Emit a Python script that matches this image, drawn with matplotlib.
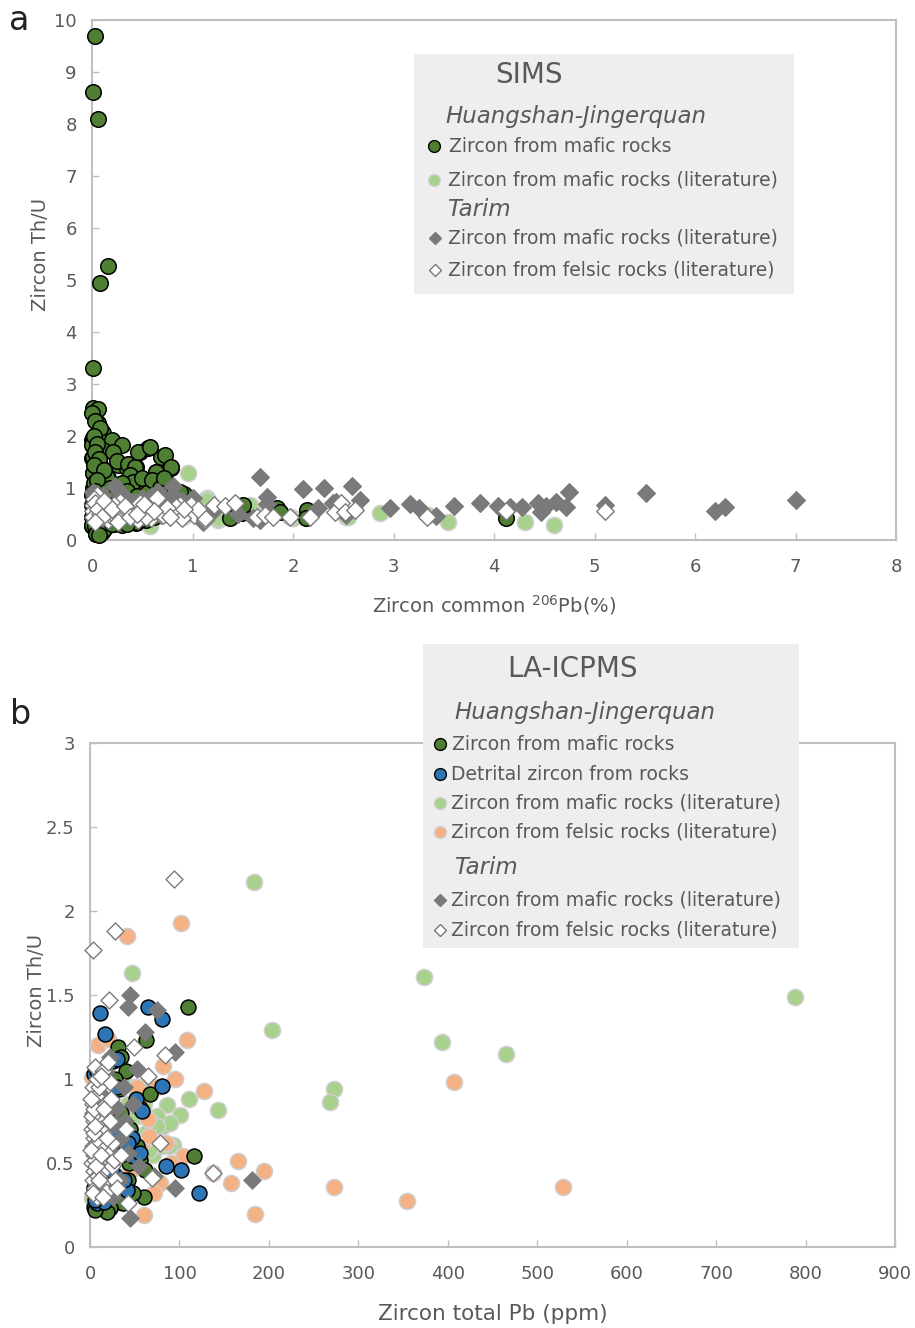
"""Zircon Th/U against common 206Pb (SIMS) and total Pb (LA-ICPMS), two stacked panels."""

import matplotlib
matplotlib.use("Agg")
import matplotlib.pyplot as plt
from matplotlib.lines import Line2D
from matplotlib.patches import Rectangle

plt.rcParams["font.family"] = ["DejaVu Sans"]

# ---- panel a (SIMS): x = common 206Pb (%), y = Th/U ----
a_hj_x = [0.03, 0.01, 0.06, 0.16, 0.08, 0.01,
          0.01, 0.06, 0.00, 0.06, 0.10, 0.00, 0.11, 0.20, 0.30, 0.11, 0.21, 0.00,
          0.08, 0.16, 0.26, 0.35, 0.44, 0.48, 0.56, 0.38, 0.44, 0.69, 0.73, 0.64,
          0.79, 0.56, 0.53, 0.61, 0.01, 0.01, 0.08, 0.01, 0.08, 0.15, 0.00, 0.44,
          0.54, 0.78, 0.92, 1.37, 1.46, 1.49, 1.50, 1.84, 1.87, 2.14, 2.13, 4.12,
          0.03, 0.08, 0.01, 0.00, 0.01, 0.01, 0.15, 0.25, 0.36, 0.43, 0.38, 0.46,
          0.58, 0.49, 0.59, 0.64, 0.79, 0.56, 0.00, 0.03, 0.08, 0.15, 0.00, 0.00,
          0.00, 0.44, 0.41, 0.88, 0.02, 0.05, 0.12, 0.22, 0.30, 0.10, 0.04,
          0.02, 0.05, 0.03, 0.07, 0.02, 0.12, 0.05, 0.03, 0.10, 0.18, 0.25, 0.30,
          0.35, 0.45, 0.50, 0.60, 0.68, 0.72, 0.02, 0.06, 0.12, 0.20, 0.28, 0.35,
          0.50, 0.62, 0.70, 0.85, 0.04, 0.07]
a_hj_y = [9.69, 8.62, 8.10, 5.27, 4.94, 3.31,
          2.53, 2.52, 2.44, 2.25, 2.08, 1.92, 2.05, 1.92, 1.83, 1.73, 1.70, 1.58,
          1.44, 1.19, 1.44, 1.38, 1.41, 1.70, 1.77, 1.22, 1.10, 1.60, 1.64, 1.31,
          1.38, 1.03, 0.90, 0.96, 1.29, 1.00, 1.03, 0.38, 0.19, 0.26, 0.26, 0.33,
          0.38, 0.52, 0.88, 0.42, 0.61, 0.52, 0.67, 0.61, 0.54, 0.58, 0.42, 0.42,
          2.28, 2.15, 1.96, 1.83, 1.60, 1.28, 1.22, 1.51, 1.47, 1.41, 1.25, 1.70,
          1.79, 1.09, 1.06, 1.31, 1.41, 0.93, 0.29, 0.26, 0.22, 0.32, 0.45, 0.67,
          0.87, 0.35, 1.12, 0.93, 1.10, 0.80, 0.62, 0.30, 0.28, 0.15, 0.12,
          2.00, 1.85, 1.70, 1.55, 1.45, 1.35, 1.15, 0.95, 0.85, 1.00, 0.90, 1.10,
          0.95, 0.85, 1.20, 1.15, 1.00, 1.20, 0.60, 0.35, 0.22, 0.30, 0.45, 0.30,
          0.40, 0.45, 0.70, 0.75, 0.12, 0.10]

a_hj_lit_x = [0.96, 1.14, 0.78, 0.58, 0.91, 1.25, 1.59, 2.00, 2.53, 2.87, 3.34,
              3.54, 4.31, 4.60, 1.14, 1.26, 1.57, 1.97, 2.55, 0.94, 0.76, 0.50,
              0.70, 1.05]
a_hj_lit_y = [1.29, 0.81, 1.03, 0.26, 0.45, 0.38, 0.64, 0.42, 0.45, 0.52, 0.48,
              0.35, 0.35, 0.28, 0.77, 0.42, 0.67, 0.45, 0.45, 0.48, 1.06, 0.60,
              0.50, 0.55]

a_tm_x = [1.67, 2.10, 2.31, 2.59, 2.67, 2.25, 2.40, 1.74, 1.74, 2.97, 3.16, 3.25,
          3.42, 3.60, 3.86, 4.04, 4.16, 4.28, 4.44, 4.52, 4.62, 4.72, 4.75, 4.47,
          5.10, 5.51, 6.20, 6.30, 7.00,
          0.01, 0.11, 0.23, 0.31, 0.43, 0.54, 0.71, 0.81, 0.81, 0.08, 0.20, 0.64,
          0.98, 1.10, 1.60, 1.67, 2.43, 2.53, 0.38, 0.15, 0.60, 0.90, 1.20, 1.45,
          0.04, 0.10, 0.27, 0.50, 0.66, 0.75, 0.86, 1.00]
a_tm_y = [1.21, 0.98, 1.00, 1.03, 0.77, 0.62, 0.72, 0.83, 0.69, 0.62, 0.69, 0.61,
          0.46, 0.65, 0.72, 0.65, 0.64, 0.63, 0.72, 0.65, 0.74, 0.64, 0.93, 0.53,
          0.67, 0.91, 0.56, 0.64, 0.76,
          0.93, 0.87, 1.03, 0.87, 0.74, 0.58, 0.71, 0.87, 1.03, 0.67, 0.52, 0.55,
          0.58, 0.35, 0.42, 0.38, 0.74, 0.48, 0.62, 0.45, 0.85, 0.75, 0.55, 0.50,
          0.78, 0.62, 0.55, 0.80, 0.92, 0.50, 0.62, 0.80]

a_tf_x = [0.01, 0.01, 0.03, 0.13, 0.16, 0.28, 0.31, 0.41, 0.46, 0.58, 0.59, 0.69,
          0.84, 0.88, 0.99, 1.01, 1.12, 1.21, 0.05, 0.01, 0.18, 0.35, 0.54, 0.71,
          0.84, 1.12, 1.32, 1.42, 1.64, 1.72, 1.80, 1.97, 2.17, 2.42, 2.48, 2.52,
          2.62, 3.33, 5.10, 4.12, 0.02, 0.08, 0.22, 0.25, 0.48, 0.65, 0.75, 0.90,
          1.05, 0.03, 0.06, 0.10, 0.12, 0.20, 0.26, 0.33, 0.38, 0.45, 0.52, 0.62,
          0.78, 0.92, 0.03]
a_tf_y = [0.67, 0.55, 0.42, 0.58, 0.38, 0.74, 0.52, 0.58, 0.38, 0.64, 0.42, 0.48,
          0.55, 0.67, 0.67, 0.48, 0.38, 0.67, 0.87, 0.45, 0.48, 0.55, 0.45, 0.48,
          0.64, 0.42, 0.65, 0.71, 0.45, 0.48, 0.45, 0.45, 0.45, 0.54, 0.71, 0.54,
          0.58, 0.45, 0.55, 0.55, 0.78, 0.50, 0.68, 0.42, 0.72, 0.80, 0.62, 0.42,
          0.60, 0.72, 0.60, 0.45, 0.75, 0.60, 0.35, 0.65, 0.45, 0.50, 0.70, 0.55,
          0.45, 0.60, 0.35]

# ---- panel b (LA-ICPMS): x = total Pb (ppm), y = Th/U ----
b_hj_x = [110, 63, 67, 116, 60, 31, 35, 32, 56, 56, 61, 48, 32, 37, 22, 11, 13,
          19, 4, 40, 28, 45, 52, 25, 15, 42, 8, 20, 28, 6, 44, 35]
b_hj_y = [1.43, 1.23, 0.91, 0.54, 0.30, 1.19, 1.13, 0.94, 0.83, 0.52, 0.46, 0.32,
          0.27, 0.26, 0.23, 0.24, 0.27, 0.21, 0.24, 1.05, 1.00, 0.70, 0.60, 0.35,
          0.30, 0.40, 0.32, 0.35, 0.42, 0.22, 0.50, 0.80]

b_det_x = [11, 17, 65, 81, 80, 51, 58, 47, 26, 48, 56, 85, 102, 9, 7.5, 19, 41,
           37, 122, 4, 26, 30, 20, 32, 12, 25, 38, 16, 30, 6, 14,
           4, 10, 22, 28, 35, 42, 18, 8]
b_det_y = [1.39, 1.27, 1.43, 1.355, 0.96, 0.88, 0.81, 0.65, 0.71, 0.54, 0.56,
           0.48, 0.46, 0.31, 0.26, 0.28, 0.34, 0.72, 0.32, 1.03, 1.11, 0.95, 0.60,
           0.62, 0.35, 0.45, 0.40, 0.27, 1.12, 0.28, 0.75,
           0.35, 0.40, 0.50, 0.67, 0.55, 0.62, 0.85, 1.05]

b_hj_lit_x = [183, 373, 204, 394, 465, 788, 273, 268, 143, 111, 101, 86, 82, 89,
              93, 88, 47, 37, 56, 75, 63, 45, 34, 39, 7.5, 2, 75, 70, 60, 50, 80,
              20, 28, 42, 52, 66, 5]
b_hj_lit_y = [2.17, 1.61, 1.29, 1.22, 1.15, 1.49, 0.94, 0.865, 0.815, 0.88, 0.785,
              0.845, 0.72, 0.74, 0.61, 0.60, 1.63, 1.00, 0.95, 0.78, 0.68, 0.70,
              0.60, 0.42, 0.24, 0.29, 0.72, 0.55, 0.85, 0.95, 0.60,
              0.45, 0.75, 0.85, 0.78, 0.58, 0.35]

b_hj_fel_x = [41, 102, 109, 95, 127, 82, 166, 194, 158, 184, 273, 354, 407, 529,
              137, 2, 9, 20, 65, 104, 60, 60, 48, 78, 71, 37, 56, 75, 30, 45, 90,
              15, 25, 66, 10, 22, 40, 52, 30, 12, 85]
b_hj_fel_y = [1.85, 1.93, 1.23, 1.00, 0.93, 1.08, 0.51, 0.45, 0.38, 0.195, 0.355,
              0.275, 0.98, 0.355, 0.44, 1.01, 1.20, 1.24, 0.76, 0.54, 0.19, 0.63,
              0.52, 0.38, 0.32, 0.26, 0.875, 0.95, 0.80, 0.45, 0.50, 1.05, 0.55,
              0.66, 0.65, 0.70, 0.62, 0.95, 0.30, 0.45, 0.62]

b_tm_x = [45, 43, 75, 61, 95, 52, 45, 95, 181, 39, 28, 11, 30, 22, 43, 71, 26,
          18, 14, 35, 20, 10, 55, 8, 33, 6, 12, 16, 25, 38, 48, 28]
b_tm_y = [1.50, 1.43, 1.41, 1.28, 1.16, 1.06, 0.17, 0.35, 0.40, 0.75, 0.73, 0.99,
          0.83, 1.13, 0.56, 0.42, 0.30, 1.05, 0.90, 0.65, 0.50, 0.45, 0.48, 0.70,
          0.40, 0.60, 0.62, 0.38, 0.85, 0.95, 0.85, 0.55]

b_tf_x = [3, 28, 94, 21, 49, 65, 84, 78, 137, 69, 43, 5.6, 3.7,
          3, 3, 4, 2, 5, 3, 4, 2, 5, 3, 6, 8, 10, 12, 9, 14, 11, 15, 13, 18, 7,
          10, 15, 20, 18, 22, 25, 20, 25, 28, 30, 22, 8, 12, 6, 9, 16, 2, 5,
          1, 4, 1, 6, 7, 10, 3, 12, 16, 19, 24, 27, 14, 35, 40]
b_tf_y = [1.77, 1.88, 2.19, 1.47, 1.19, 1.02, 1.14, 0.62, 0.44, 0.41, 0.26,
          1.07, 0.95,
          0.85, 0.80, 0.75, 0.70, 0.65, 0.60, 0.55, 0.50, 0.45, 0.40, 0.35, 0.30,
          0.78, 0.70, 0.62, 0.58, 0.50, 0.45, 0.38, 0.33, 0.90, 0.95, 1.05, 1.10,
          0.85, 0.75, 0.62, 0.55, 0.48, 0.40, 0.35, 0.98, 1.00, 1.02, 0.52, 0.42,
          0.68, 0.78, 0.82,
          0.88, 0.68, 0.58, 0.72, 0.48, 0.40, 0.32, 0.55, 0.82, 0.65, 0.88, 0.52,
          0.30, 0.55, 0.70]

DARK = "#4f7f33"
LIGHT = "#a9d18e"
BLUE = "#2e75b6"
SALMON = "#f4b183"
GREY = "#7a7a7a"
TXT = "#595959"
AXC = "#bfbfbf"
RIM = "#cfcfcf"

W, H = 915, 1328
fig = plt.figure(figsize=(W / 100, H / 100), dpi=100)


def fx(px):
    return px / W


def fy(py):
    return 1 - py / H


def style_axes(ax):
    for sp in ax.spines.values():
        sp.set_color(AXC)
        sp.set_linewidth(1.5)
    ax.tick_params(direction="in", length=5, width=1, color=AXC,
                   labelcolor=TXT, labelsize=13)
    ax.tick_params(axis="y", pad=11)
    ax.tick_params(axis="x", pad=13)


circ = dict(marker="o", linewidths=1.1, zorder=3, clip_on=False)
dia = dict(marker="D", linewidths=1.0, zorder=4, clip_on=False)

# panel a
axa = fig.add_axes([fx(92), fy(540), fx(896) - fx(92), fy(20) - fy(540)])
axa.scatter(a_hj_lit_x, a_hj_lit_y, s=135, c=LIGHT, edgecolors=RIM, **circ)
axa.scatter(a_hj_x, a_hj_y, s=125, c=DARK, edgecolors="black", **circ)
axa.scatter(a_tm_x, a_tm_y, s=80, c=GREY, edgecolors=GREY, **dia)
axa.scatter(a_tf_x, a_tf_y, s=80, c="white", edgecolors=GREY, **dia)
axa.set_xlim(0, 8)
axa.set_ylim(0, 10)
axa.set_xticks(range(0, 9))
axa.set_yticks(range(0, 11))
style_axes(axa)
axa.set_ylabel("Zircon Th/U", color=TXT, fontsize=14)
axa.yaxis.set_label_coords(-0.052, 0.55)
axa.set_xlabel("Zircon common $^{206}$Pb(%)", color=TXT, fontsize=14, labelpad=12)

# panel b
axb = fig.add_axes([fx(90), fy(1247), fx(895) - fx(90), fy(743) - fy(1247)])
axb.scatter(b_hj_lit_x, b_hj_lit_y, s=135, c=LIGHT, edgecolors=RIM, **circ)
axb.scatter(b_hj_fel_x, b_hj_fel_y, s=135, c=SALMON, edgecolors=RIM, **circ)
axb.scatter(b_hj_x, b_hj_y, s=115, c=DARK, edgecolors="black", **circ)
axb.scatter(b_det_x, b_det_y, s=115, c=BLUE, edgecolors="black", **circ)
axb.scatter(b_tm_x, b_tm_y, s=75, c=GREY, edgecolors=GREY, **dia)
axb.scatter(b_tf_x, b_tf_y, s=75, c="white", edgecolors=GREY, **dia)
axb.set_xlim(0, 900)
axb.set_ylim(0, 3)
axb.set_xticks(range(0, 901, 100))
axb.set_yticks([0, 0.5, 1, 1.5, 2, 2.5, 3])
axb.set_yticklabels(["0", "0.5", "1", "1.5", "2", "2.5", "3"])
style_axes(axb)
axb.set_ylabel("Zircon Th/U", color=TXT, fontsize=14)
axb.yaxis.set_label_coords(-0.055, 0.51)
axb.set_xlabel("Zircon total Pb (ppm)", color=TXT, fontsize=15.5, labelpad=15)

fig.text(fx(9), fy(20), "a", fontsize=24, color="#222222", va="center")
fig.text(fx(10), fy(714), "b", fontsize=24, color="#222222", va="center")


def legend_box(x0, y0, x1, y1, title, title_xy, rows):
    fig.add_artist(Rectangle((fx(x0), fy(y1)), fx(x1) - fx(x0), fy(y0) - fy(y1),
                             transform=fig.transFigure, facecolor="#edeeed",
                             edgecolor="none", zorder=5))
    fig.text(fx(title_xy[0]), fy(title_xy[1]), title, fontsize=20, color=TXT,
             ha="center", va="center", zorder=6)
    for kind, xm, xt, yy, label in rows:
        if kind == "head":
            fig.text(fx(xt), fy(yy), label, fontsize=16.5, style="italic",
                     color=TXT, va="center", zorder=6)
            continue
        fc, ec, mk, ms = kind
        fig.add_artist(Line2D([fx(xm)], [fy(yy)], marker=mk, markersize=ms,
                              markerfacecolor=fc, markeredgecolor=ec,
                              markeredgewidth=1.0, linestyle="none",
                              transform=fig.transFigure, zorder=6))
        fig.text(fx(xt), fy(yy), label, fontsize=13.5, color=TXT, va="center",
                 zorder=6)


m_dark = (DARK, "black", "o", 8.5)
m_light = (LIGHT, RIM, "o", 8.5)
m_blue = (BLUE, "black", "o", 8.5)
m_salmon = (SALMON, RIM, "o", 8.5)
m_grey = (GREY, GREY, "D", 6.0)
m_white = ("white", GREY, "D", 6.0)

legend_box(414, 54, 794, 294, "SIMS", (529, 75), [
    ("head", 0, 445, 116, "Huangshan-Jingerquan"),
    (m_dark, 434, 449, 146, "Zircon from mafic rocks"),
    (m_light, 434, 448, 180, "Zircon from mafic rocks (literature)"),
    ("head", 0, 447, 210, "Tarim"),
    (m_grey, 435, 448, 238, "Zircon from mafic rocks (literature)"),
    (m_white, 435, 448, 270, "Zircon from felsic rocks (literature)"),
])

legend_box(423, 644, 799, 948, "LA-ICPMS", (572, 669), [
    ("head", 0, 454, 713, "Huangshan-Jingerquan"),
    (m_dark, 440, 452, 744, "Zircon from mafic rocks"),
    (m_blue, 440, 451, 774, "Detrital zircon from rocks"),
    (m_light, 440, 451, 803, "Zircon from mafic rocks (literature)"),
    (m_salmon, 440, 451, 832, "Zircon from felsic rocks (literature)"),
    ("head", 0, 454, 868, "Tarim"),
    (m_grey, 440, 451, 900, "Zircon from mafic rocks (literature)"),
    (m_white, 440, 451, 930, "Zircon from felsic rocks (literature)"),
])

fig.savefig("out.png", dpi=100)
